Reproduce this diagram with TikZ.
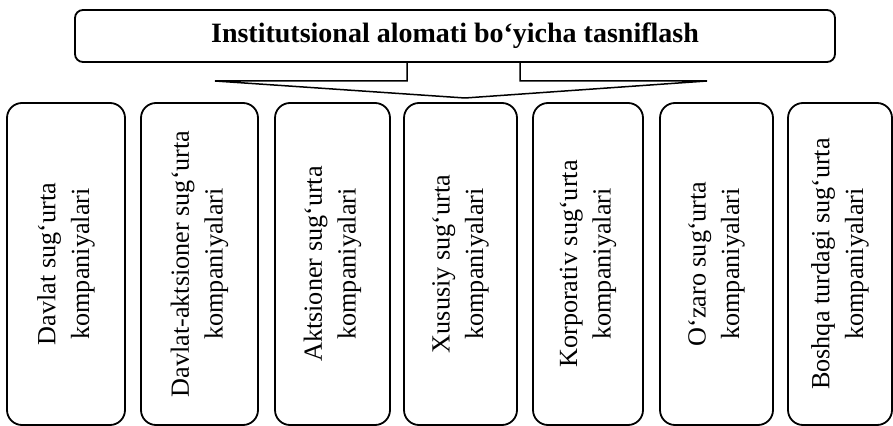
\documentclass[tikz,border=0pt]{standalone}
\usepackage{fontspec}
\setmainfont{Liberation Serif}
\usetikzlibrary{positioning, calc}
\tikzset{
  headbox/.style={rectangle, draw=black, rounded corners=4pt,
    minimum width=380pt, minimum height=26pt, inner sep=0pt,
    font=\fontsize{14}{17}\selectfont\bfseries, line width=0.9pt},
  typebox/.style={rectangle, draw=black, rounded corners=7.5pt,
    rotate=90, minimum width=161pt, align=center, inner sep=0pt,
    font=\fontsize{13.1}{16.8}\selectfont, line width=0.9pt},
  pointer/.style={line width=0.75pt, line join=miter, color=black}
}
\begin{document}
\begin{tikzpicture}[x=0.5pt, y=-0.5pt]
  \useasboundingbox (0,0) rectangle (893,426);

  % Header
  \node[headbox] (head) at (455,36) {Institutsional alomati bo‘yicha tasniflash};

  % Pointer under the header
  \coordinate (tip) at (465,98);
  \draw[pointer] (407,62) -- (407,81) -- (215,81) -- (tip) -- (707,81) -- (520,81) -- (520,62);

  % Types of companies
  \node[typebox, minimum height=59pt] (davlat) at (66,264) {Davlat sug‘urta\\kompaniyalari};
  \node[typebox, minimum height=58.5pt] (davlatakts) at (199.5,264) {Davlat-aktsioner sug‘urta\\kompaniyalari};
  \node[typebox, minimum height=57.5pt] (aktsioner) at (332.5,264) {Aktsioner sug‘urta\\kompaniyalari};
  \node[typebox, minimum height=56.5pt] (xususiy) at (460.5,264) {Xususiy sug‘urta\\kompaniyalari};
  \node[typebox, minimum height=55pt] (korporativ) at (588,264) {Korporativ sug‘urta\\kompaniyalari};
  \node[typebox, minimum height=56.5pt] (ozaro) at (716.5,264) {O‘zaro sug‘urta\\kompaniyalari};
  \node[typebox, minimum height=52pt] (boshqa) at (840,264) {Boshqa turdagi sug‘urta\\kompaniyalari};
\end{tikzpicture}
\end{document}
